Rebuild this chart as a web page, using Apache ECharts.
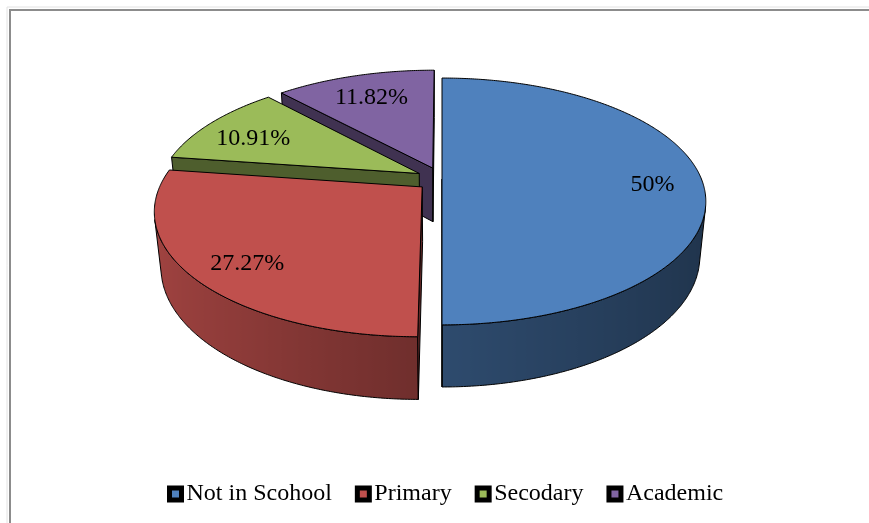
<!DOCTYPE html>
<html>
<head>
<meta charset="utf-8">
<script src="https://cdn.jsdelivr.net/npm/echarts@6/dist/echarts.min.js"></script>
<style>
  html, body { margin: 0; padding: 0; background: #ffffff; }
  #chart { width: 869px; height: 523px; }
</style>
</head>
<body>
<div id="chart"></div>
<script>
// Share of people by schooling level (percent)
const categories = ['Not in Scohool', 'Primary', 'Secodary', 'Academic'];
const shares = [50, 27.27, 10.91, 11.82];

// Appearance
const palette = ['#4f81bd', '#c0504d', '#9bbb59', '#8064a2'];
const explode = [0, 0.1, 0.1, 0.1];          // pull-out distance, in pie radii
const FONT_FAMILY = '"Liberation Serif", "Times New Roman", serif';

// Perspective camera for the tilted pie (unit radius disc on a horizontal plane)
const view = {
  cx: 442, cy: 179,        // screen position of the disc centre
  f: 1266,                 // focal length in pixels
  dist: 4.88,              // camera distance, in radii
  sinT: 0.46, cosT: 0.888, // camera elevation
  thick: 0.241             // disc thickness, in radii
};
const camPos = [0, view.dist * view.sinT, view.dist * view.cosT];

function project(X, Y, Z) {
  const yv = Y * view.cosT - Z * view.sinT;
  const d = view.dist - Y * view.sinT - Z * view.cosT;
  return [view.cx + view.f * X / d, view.cy - view.f * yv / d];
}

function facesCamera(n, p) {
  return n[0] * (camPos[0] - p[0]) + n[1] * (camPos[1] - p[1]) + n[2] * (camPos[2] - p[2]) > 0;
}

function shade(hex, k) {
  const n = parseInt(hex.slice(1), 16);
  const r = Math.round(((n >> 16) & 255) * k);
  const g = Math.round(((n >> 8) & 255) * k);
  const b = Math.round((n & 255) * k);
  return 'rgb(' + r + ',' + g + ',' + b + ')';
}

// Light comes from the left: left-facing walls are brighter
function wallFactor(t) {
  const s = Math.sin(t);
  return s < 0 ? 0.58 - 0.26 * s : 0.58 - 0.18 * s;
}

const total = shares.reduce((s, v) => s + v, 0);

function sliceRenderer(idx) {
  return function (params, api) {
    const value = api.value(0);
    let before = 0;
    for (let k = 0; k < idx; k++) before += shares[k];
    // angles measured clockwise from the far side of the disc
    const a = before / total * 2 * Math.PI;
    const b = (before + value) / total * 2 * Math.PI;
    const mid = (a + b) / 2;
    const ox = explode[idx] * Math.sin(mid);
    const oz = -explode[idx] * Math.cos(mid);
    const h = view.thick;
    const color = palette[idx];
    const steps = Math.max(8, Math.ceil((b - a) / (Math.PI / 360)));
    const rim = (t, Y) => project(ox + Math.sin(t), Y, oz - Math.cos(t));
    const wallZ = 50 - Math.round(10 * Math.cos(mid));
    const edge = { stroke: '#000', lineWidth: 1, lineJoin: 'round' };
    const children = [];

    // top face
    const topPts = [project(ox, 0, oz)];
    for (let j = 0; j <= steps; j++) topPts.push(rim(a + (b - a) * j / steps, 0));
    children.push({
      type: 'polygon', z2: 100, shape: { points: topPts },
      style: Object.assign({ fill: color }, edge)
    });

    // curved outer wall, only the part turned to the camera
    const vis = [];
    for (let j = 0; j <= steps; j++) {
      const t = a + (b - a) * j / steps;
      const n = [Math.sin(t), 0, -Math.cos(t)];
      const p = [ox + Math.sin(t), -h / 2, oz - Math.cos(t)];
      if (facesCamera(n, p)) vis.push(t);
    }
    if (vis.length > 1) {
      const upper = vis.map(t => rim(t, 0));
      const lower = vis.map(t => rim(t, -h));
      const pts = upper.concat(lower.slice().reverse());
      const xs = pts.map(p => p[0]);
      const minX = Math.min.apply(null, xs), maxX = Math.max.apply(null, xs);
      const stops = vis.map((t, j) => ({
        offset: Math.min(1, Math.max(0, ((upper[j][0] + lower[j][0]) / 2 - minX) / (maxX - minX))),
        color: shade(color, wallFactor(t))
      }));
      stops.sort((p, q) => p.offset - q.offset);
      children.push({
        type: 'polygon', z2: wallZ, shape: { points: pts },
        style: Object.assign({
          fill: { type: 'linear', x: 0, y: 0, x2: 1, y2: 0, colorStops: stops }
        }, edge)
      });
    }

    // flat radial walls
    [[a, -1], [b, 1]].forEach(function (pair) {
      const t = pair[0];
      const tn = t + pair[1] * Math.PI / 2;
      const n = [Math.sin(tn), 0, -Math.cos(tn)];
      const p = [ox + 0.5 * Math.sin(t), -h / 2, oz - 0.5 * Math.cos(t)];
      if (!facesCamera(n, p)) return;
      const pts = [project(ox, 0, oz), rim(t, 0), rim(t, -h), project(ox, -h, oz)];
      children.push({
        type: 'polygon', z2: wallZ, shape: { points: pts },
        style: Object.assign({ fill: shade(color, 0.5) }, edge)
      });
    });

    // percentage label on the top face
    const lr = 0.8;
    const lp = project(ox + lr * Math.sin(mid), 0, oz - lr * Math.cos(mid));
    children.push({
      type: 'text', z2: 200, x: lp[0] + 3, y: lp[1] + 6,
      style: {
        text: value + '%', fill: '#000',
        font: '24px ' + FONT_FAMILY, align: 'center', verticalAlign: 'middle'
      }
    });

    return { type: 'group', children: children };
  };
}

const chart = echarts.init(document.getElementById('chart'), null, { renderer: 'canvas' });
chart.setOption({
  backgroundColor: '#ffffff',
  animation: false,
  color: palette,
  legend: {
    data: categories,
    left: 167,
    top: 482,
    padding: 0,
    itemWidth: 12,
    itemHeight: 12,
    itemGap: 23,
    icon: 'rect',
    itemStyle: { borderColor: '#000', borderWidth: 5 },
    textStyle: { fontFamily: FONT_FAMILY, fontSize: 24, color: '#000' },
    selectedMode: false
  },
  graphic: [
    {
      type: 'rect', silent: true, z: -1,
      shape: { x: 7, y: 7, width: 1000, height: 1000 },
      style: { fill: null, stroke: '#e2e2e2', lineWidth: 1 }
    },
    {
      type: 'rect', silent: true, z: -1,
      shape: { x: 10, y: 10, width: 1000, height: 1000 },
      style: { fill: null, stroke: '#8c8c8c', lineWidth: 2 }
    }
  ],
  series: categories.map(function (name, i) {
    return {
      type: 'custom',
      name: name,
      coordinateSystem: 'none',
      silent: true,
      itemStyle: { color: palette[i] },
      data: [[shares[i]]],
      renderItem: sliceRenderer(i)
    };
  })
});
</script>
</body>
</html>
